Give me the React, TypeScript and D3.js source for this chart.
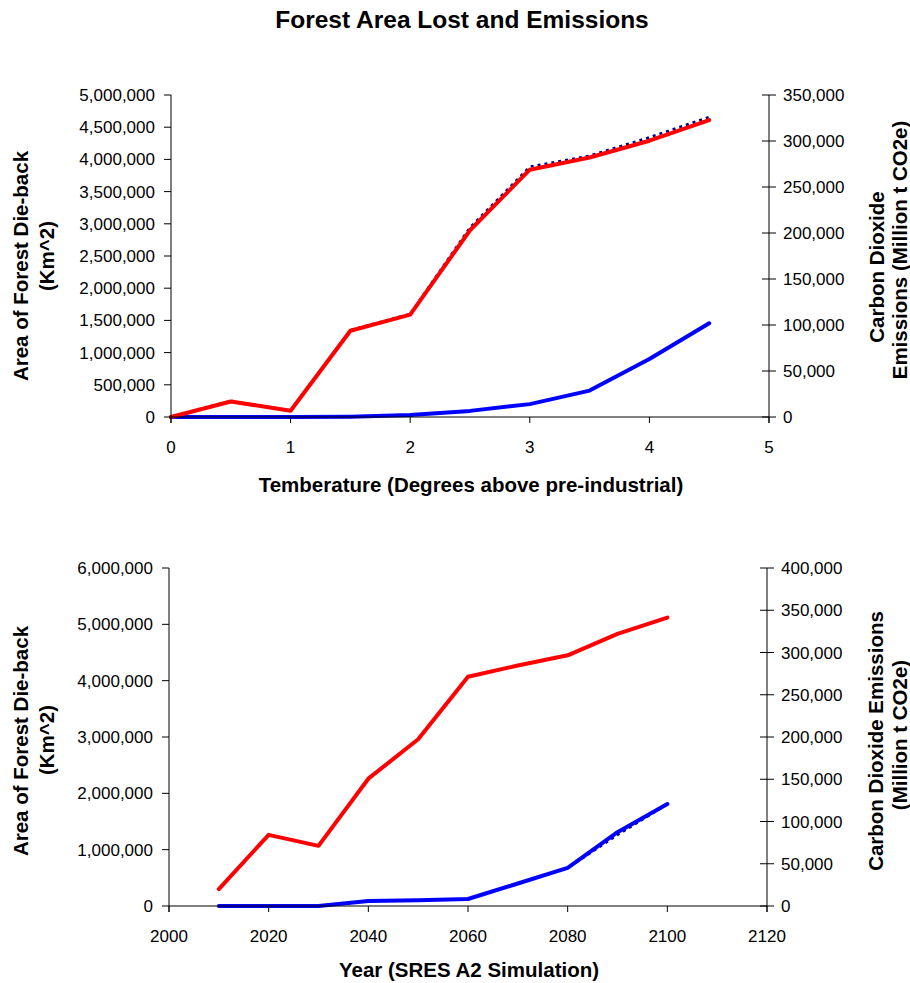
import React from "react";
import * as d3 from "d3";

// ---------- Data ----------
const tempX = [0, 0.5, 1, 1.5, 2, 2.5, 3, 3.5, 4, 4.5];
const tempArea = [0, 240000, 98000, 1340000, 1590000, 2900000, 3840000, 4030000, 4290000, 4610000];
const tempEmissions = [0, 17500, 7000, 94500, 112000, 206000, 272000, 284000, 304000, 326000];
const tempBlue = [0, 0, 0, 5000, 30000, 95000, 200000, 410000, 900000, 1455000];

const yearX = [2010, 2020, 2030, 2040, 2050, 2060, 2070, 2080, 2090, 2100];
const yearArea = [300000, 1263000, 1068000, 2260000, 2960000, 4070000, 4270000, 4450000, 4830000, 5120000];
const yearBlue = [0, 0, 0, 88000, 100000, 124000, 400000, 678000, 1310000, 1810000];
const yearEmissions = [0, 0, 0, 5900, 6700, 8300, 27000, 45000, 84000, 120500];

const topXTicks = [0, 1, 2, 3, 4, 5];
const topLeftTicks = [0, 500000, 1000000, 1500000, 2000000, 2500000, 3000000, 3500000, 4000000, 4500000, 5000000];
const topRightTicks = [0, 50000, 100000, 150000, 200000, 250000, 300000, 350000];
const botXTicks = [2000, 2020, 2040, 2060, 2080, 2100, 2120];
const botLeftTicks = [0, 1000000, 2000000, 3000000, 4000000, 5000000, 6000000];
const botRightTicks = [0, 50000, 100000, 150000, 200000, 250000, 300000, 350000, 400000];

const FONT = "'Liberation Sans', Arial, sans-serif";
const fmt = d3.format(",");
const TITLE_SIZE = 20.5;

type Series = { x: number[]; y: number[]; axis: "left" | "right"; color: string; width: number; dash?: string };

function Chart(props: {
  x0: number; x1: number; yTop: number; yBot: number;
  xDomain: [number, number]; leftMax: number; rightMax: number;
  xTicks: number[]; leftTicks: number[]; rightTicks: number[];
  series: Series[];
  xTitle: string; xTitleY: number;
  leftTitle: { text: string; x: number; y: number }[];
  rightTitle: { text: string; x: number; y: number }[];
}) {
  const { x0, x1, yTop, yBot } = props;
  const xs = d3.scaleLinear().domain(props.xDomain).range([x0, x1]);
  const yl = d3.scaleLinear().domain([0, props.leftMax]).range([yBot, yTop]);
  const yr = d3.scaleLinear().domain([0, props.rightMax]).range([yBot, yTop]);
  return (
    <g>
      {props.series.map((s, i) => {
        const ys = s.axis === "left" ? yl : yr;
        const line = d3.line<number>().x((_, j) => xs(s.x[j])).y((d) => ys(d));
        return (
          <path key={i} d={line(s.y) || ""} fill="none" stroke={s.color} strokeWidth={s.width}
            strokeDasharray={s.dash} strokeLinejoin="round" strokeLinecap={s.dash ? "butt" : "round"} />
        );
      })}
      {/* axes */}
      <line x1={x0} x2={x0} y1={yTop} y2={yBot + 6} stroke="#000" strokeWidth={1} />
      <line x1={x1} x2={x1} y1={yTop} y2={yBot + 6} stroke="#000" strokeWidth={1} />
      <line x1={x0} x2={x1} y1={yBot} y2={yBot} stroke="#000" strokeWidth={1} />
      {props.xTicks.map((t) => (
        <g key={"x" + t}>
          <line x1={xs(t)} x2={xs(t)} y1={yBot} y2={yBot + 6} stroke="#000" />
          <text x={xs(t)} y={yBot + 36} textAnchor="middle" fontSize={17} fontFamily={FONT}>{fmt(t).replace(/,/g, "")}</text>
        </g>
      ))}
      {props.leftTicks.map((t) => (
        <g key={"l" + t}>
          <line x1={x0 - 7} x2={x0} y1={yl(t)} y2={yl(t)} stroke="#000" />
          <text x={x0 - 16} y={yl(t) + 6} textAnchor="end" fontSize={17} fontFamily={FONT}>{fmt(t)}</text>
        </g>
      ))}
      {props.rightTicks.map((t) => (
        <g key={"r" + t}>
          <line x1={x1 - 7} x2={x1 + 7} y1={yr(t)} y2={yr(t)} stroke="#000" />
          <text x={x1 + 14} y={yr(t) + 6} textAnchor="start" fontSize={17} fontFamily={FONT}>{fmt(t)}</text>
        </g>
      ))}
      <text x={(x0 + x1) / 2 + 1} y={props.xTitleY} textAnchor="middle" fontSize={TITLE_SIZE} fontWeight="bold" fontFamily={FONT}>{props.xTitle}</text>
      {props.leftTitle.concat(props.rightTitle).map((t, i) => (
        <text key={i} transform={`translate(${t.x},${t.y}) rotate(-90)`} textAnchor="middle" dominantBaseline="central"
          fontSize={TITLE_SIZE} fontWeight="bold" fontFamily={FONT}>{t.text}</text>
      ))}
    </g>
  );
}

export default function App() {
  return (
    <svg width={910} height={983} style={{ position: "absolute", left: 0, top: 0, background: "#fff" }}>
      <rect width={910} height={983} fill="#fff" />
      <text x={462} y={28} textAnchor="middle" fontSize={24.5} fontWeight="bold" fontFamily={FONT}>Forest Area Lost and Emissions</text>
      <Chart
        x0={171} x1={769} yTop={95} yBot={417}
        xDomain={[0, 5]} leftMax={5000000} rightMax={350000}
        xTicks={topXTicks} leftTicks={topLeftTicks} rightTicks={topRightTicks}
        series={[
          { x: tempX, y: tempEmissions, axis: "right", color: "#000080", width: 2.5, dash: "3,4" },
          { x: tempX, y: tempBlue, axis: "left", color: "#0000ff", width: 4 },
          { x: tempX, y: tempArea, axis: "left", color: "#ff0000", width: 4 },
        ]}
        xTitle="Temberature (Degrees above pre-industrial)" xTitleY={492}
        leftTitle={[{ text: "Area of Forest Die-back", x: 20, y: 266 }, { text: "(Km^2)", x: 46, y: 256 }]}
        rightTitle={[{ text: "Carbon Dioxide", x: 876, y: 267 }, { text: "Emissions (Million t CO2e)", x: 899, y: 250 }]}
      />
      <Chart
        x0={169} x1={767} yTop={568} yBot={906}
        xDomain={[2000, 2120]} leftMax={6000000} rightMax={400000}
        xTicks={botXTicks} leftTicks={botLeftTicks} rightTicks={botRightTicks}
        series={[
          { x: yearX, y: yearEmissions, axis: "right", color: "#000080", width: 2.5, dash: "3,4" },
          { x: yearX, y: yearBlue, axis: "left", color: "#0000ff", width: 4 },
          { x: yearX, y: yearArea, axis: "left", color: "#ff0000", width: 4 },
        ]}
        xTitle="Year (SRES A2 Simulation)" xTitleY={977}
        leftTitle={[{ text: "Area of Forest Die-back", x: 20, y: 741 }, { text: "(Km^2)", x: 46, y: 740 }]}
        rightTitle={[{ text: "Carbon Dioxide Emissions", x: 875, y: 741 }, { text: "(Million t CO2e)", x: 899, y: 735 }]}
      />
    </svg>
  );
}
